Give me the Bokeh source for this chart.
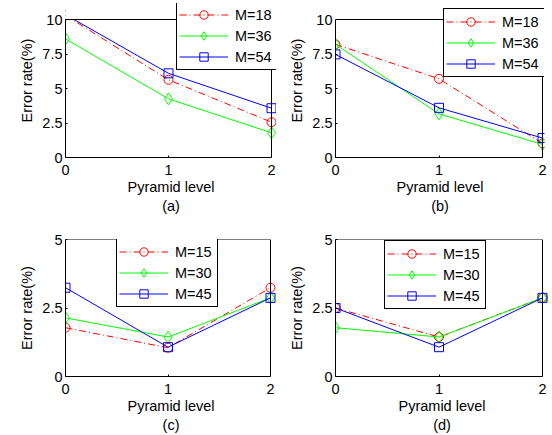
from bokeh.plotting import figure
from bokeh.models import (Range1d, FixedTicker, Legend, LegendItem, Title,
                          BoxAnnotation)
from bokeh.layouts import column, row
from bokeh.embed import file_html
from bokeh.resources import INLINE

# ---------------- data ----------------
levels = [0, 1, 2]

a_labels = ["M=18", "M=36", "M=54"]
a_m18 = [10.3, 5.63, 2.56]
a_m36 = [8.6, 4.25, 1.79]
a_m54 = [10.35, 6.1, 3.57]

b_labels = ["M=18", "M=36", "M=54"]
b_m18 = [8.2, 5.7, 1.02]
b_m36 = [8.2, 3.16, 0.95]
b_m54 = [7.47, 3.6, 1.41]

c_labels = ["M=15", "M=30", "M=45"]
c_m15 = [1.78, 1.05, 3.24]
c_m30 = [2.14, 1.44, 2.87]
c_m45 = [3.24, 1.07, 2.87]

d_labels = ["M=15", "M=30", "M=45"]
d_m15 = [2.5, 1.44, 2.87]
d_m30 = [1.78, 1.44, 2.87]
d_m45 = [2.5, 1.07, 2.87]

top_yticks = [0, 2.5, 5, 7.5, 10]
top_ytick_labels = ["0", "2.5", "5", "7.5", "10"]
bot_yticks = [0, 2.5, 5]
bot_ytick_labels = ["0", "2.5", "5"]
x_tick_labels = ["0", "1", "2"]
x_max_level = 2

FONT = "Liberation Sans"
FS = "14.5px"


def key(v):
    return int(v) if float(v).is_integer() else v


def make_panel(width, height, borders, box_px, ymax, yticks, ylabels, tag,
               series, names, legend_loc):
    left, right, top, bottom = borders
    box_w, box_h = box_px
    frame_w = width - left - right
    frame_h = height - top - bottom
    xr_end = x_max_level * frame_w / box_w
    yr_end = ymax * frame_h / box_h
    p = figure(width=width, height=height, x_range=Range1d(0, xr_end),
               y_range=Range1d(0, yr_end), output_backend="svg",
               toolbar_location=None, title=None,
               min_border_left=left, min_border_right=right,
               min_border_top=top, min_border_bottom=bottom)
    p.xgrid.visible = False
    p.ygrid.visible = False
    p.outline_line_color = None
    p.background_fill_color = "white"
    p.border_fill_color = "white"

    for ax in (p.xaxis[0], p.yaxis[0]):
        ax.axis_line_color = "black"
        ax.major_tick_line_color = "black"
        ax.major_tick_in = 2
        ax.major_tick_out = 0
        ax.minor_tick_line_color = None
        ax.major_label_text_font = FONT
        ax.major_label_text_font_size = FS
        ax.major_label_text_color = "black"
        ax.axis_label_text_font = FONT
        ax.axis_label_text_font_size = FS
        ax.axis_label_text_font_style = "normal"
        ax.axis_label_text_color = "black"

    p.xaxis.bounds = (0, x_max_level)
    p.yaxis.bounds = (0, ymax)
    p.xaxis.ticker = FixedTicker(ticks=levels)
    p.xaxis.major_label_overrides = {key(t): s for t, s in zip(levels, x_tick_labels)}
    p.yaxis.ticker = FixedTicker(ticks=yticks)
    p.yaxis.major_label_overrides = {key(t): s for t, s in zip(yticks, ylabels)}
    p.xaxis.axis_label = "Pyramid level"
    p.xaxis.major_label_standoff = 7
    p.xaxis.axis_label_standoff = 1
    p.yaxis.major_label_standoff = 3

    # y label as a left title, centred on the axis box rather than the frame
    ylab = Title(text="Error rate(%)", align="center", text_font=FONT,
                 text_font_size=FS, text_font_style="normal",
                 text_color="black", standoff=10,
                 offset=-(frame_h - box_h) / 2)
    p.add_layout(ylab, "left")

    t = Title(text=tag, align="center", text_font=FONT, text_font_size=FS,
              text_font_style="normal", text_color="black", standoff=-4)
    p.add_layout(t, "below")

    styles = [
        dict(color="#FF0000", dash="7 3 1 3", marker="circle", size=9),
        dict(color="#00FF00", dash="solid", marker="diamond", size=12),
        dict(color="#0000FF", dash="solid", marker="square", size=9),
    ]
    items = []
    for ys, name, st in zip(series, names, styles):
        ln = p.line(levels, ys, line_color=st["color"], line_width=1,
                    line_dash=st["dash"])
        sc = p.scatter(levels, ys, marker=st["marker"], size=st["size"],
                       line_color=st["color"], fill_color=None, line_width=1)
        items.append(LegendItem(label=name, renderers=[ln, sc]))

    # white band above the axis box: values beyond the limit are clipped
    if yr_end > ymax:
        p.add_layout(BoxAnnotation(bottom=ymax, fill_color="white",
                                   fill_alpha=1, line_color=None))
    # axis box
    p.add_layout(BoxAnnotation(left=0, right=x_max_level, bottom=0, top=ymax,
                               fill_color=None, fill_alpha=0,
                               line_color="black", line_alpha=1, line_width=1))

    lg = Legend(items=items, location=legend_loc, margin=0, padding=2,
                spacing=0, glyph_width=49, glyph_height=21, label_height=21,
                label_width=40, label_standoff=7, label_text_font=FONT,
                label_text_font_size=FS, label_text_color="black",
                border_line_color="black", border_line_width=1,
                border_line_alpha=1, background_fill_color="white",
                background_fill_alpha=1)
    p.add_layout(lg)
    return p


pa = make_panel(276, 218, (65, 0, 3, 61), (206, 138), 10, top_yticks,
                top_ytick_labels, "(a)", [a_m18, a_m36, a_m54], a_labels, (111, 87))
pb = make_panel(276, 218, (59, 8, 3, 61), (207, 138), 10, top_yticks,
                top_ytick_labels, "(b)", [b_m18, b_m36, b_m54], b_labels, (108, 80))
pc = make_panel(276, 217, (65, 0, 21, 59), (205, 137), 5, bot_yticks,
                bot_ytick_labels, "(c)", [c_m15, c_m30, c_m45], c_labels, (51, 69))
pd = make_panel(276, 217, (59, 4, 21, 59), (207, 137), 5, bot_yticks,
                bot_ytick_labels, "(d)", [d_m15, d_m30, d_m45], d_labels, (49, 67))

layout = column(row(pa, pb), row(pc, pd))

with open("out.html", "w") as f:
    f.write(file_html(layout, INLINE))
